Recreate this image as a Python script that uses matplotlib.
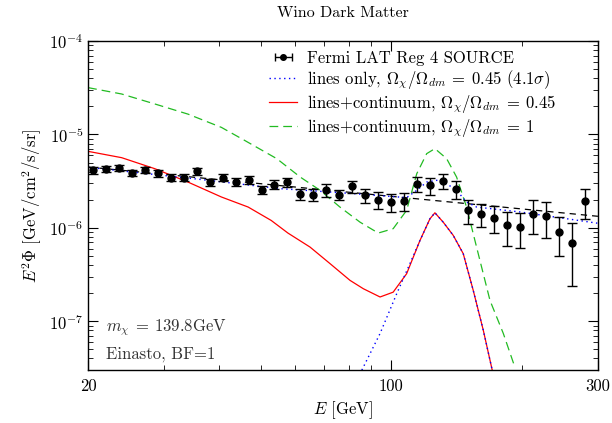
import matplotlib
matplotlib.use("Agg")
import matplotlib.pyplot as plt
import numpy as np
from matplotlib.ticker import FixedLocator, NullFormatter, LogLocator

plt.rcParams["font.family"] = "serif"
plt.rcParams["font.serif"] = ["cmr10", "DejaVu Serif"]
plt.rcParams["mathtext.fontset"] = "cm"
plt.rcParams["axes.unicode_minus"] = False
plt.rcParams["axes.formatter.use_mathtext"] = True

# Fermi LAT data points (E in GeV, E^2 Phi in GeV/cm^2/s/sr)
data_E = [20.57, 22.03, 23.60, 25.28, 27.07, 29.00, 31.06, 33.27, 35.63, 38.17,
          40.88, 43.79, 46.90, 50.24, 53.81, 57.63, 61.73, 66.12, 70.82, 75.86,
          81.25, 87.03, 93.21, 99.84, 106.9, 114.5, 122.7, 131.4, 140.8, 150.8,
          161.5, 173.0, 185.3, 198.5, 212.6, 227.7, 243.9, 261.2, 279.8]
data_flux = [4.13e-6, 4.30e-6, 4.41e-6, 3.86e-6, 4.16e-6, 3.83e-6, 3.45e-6, 3.45e-6, 4.02e-6, 3.07e-6,
             3.45e-6, 3.12e-6, 3.25e-6, 2.56e-6, 2.90e-6, 3.09e-6, 2.30e-6, 2.27e-6, 2.52e-6, 2.27e-6,
             2.78e-6, 2.23e-6, 2.00e-6, 1.88e-6, 1.94e-6, 2.97e-6, 2.85e-6, 3.20e-6, 2.60e-6, 1.55e-6,
             1.42e-6, 1.29e-6, 1.06e-6, 1.03e-6, 1.42e-6, 1.34e-6, 0.90e-6, 0.69e-6, 1.92e-6]
data_err = [0.32e-6, 0.33e-6, 0.35e-6, 0.31e-6, 0.33e-6, 0.33e-6, 0.29e-6, 0.29e-6, 0.34e-6, 0.26e-6,
            0.31e-6, 0.30e-6, 0.33e-6, 0.27e-6, 0.32e-6, 0.37e-6, 0.32e-6, 0.32e-6, 0.40e-6, 0.30e-6,
            0.39e-6, 0.37e-6, 0.41e-6, 0.40e-6, 0.41e-6, 0.53e-6, 0.58e-6, 0.57e-6, 0.57e-6, 0.45e-6,
            0.40e-6, 0.41e-6, 0.42e-6, 0.42e-6, 0.55e-6, 0.57e-6, 0.40e-6, 0.45e-6, 0.68e-6]

# background power law (black dashed)
bkg_E = [20, 300]
bkg_flux = [4.48e-6, 1.33e-6]

# lines only: total model (bkg + lines) and line signal alone
lines_tot_E = [20, 36.3, 55.4, 80.4, 101.1, 108.6, 114.6, 120.8, 127.4, 134.3,
               141.6, 149.3, 157.5, 198.3, 300]
lines_tot_flux = [4.45e-6, 3.3e-6, 2.63e-6, 2.34e-6, 2.16e-6, 2.11e-6, 2.52e-6, 3.09e-6, 3.23e-6, 2.97e-6,
                  2.52e-6, 1.89e-6, 1.67e-6, 1.48e-6, 1.12e-6]
lines_sig_E = [85.6, 94.3, 103.0, 110.5, 116.6, 122.9, 126.2, 131.9, 139.1, 146.7, 154.7, 163.2, 171.1]
lines_sig_flux = [3.0e-8, 7.4e-8, 1.97e-7, 4.14e-7, 7.35e-7, 1.25e-6, 1.45e-6, 1.15e-6, 8.31e-7,
                  5.29e-7, 2.14e-7, 8.0e-8, 3.0e-8]

# lines + continuum, Omega = 0.45 (red)
cont045_E = [20, 23.9, 28.5, 34.0, 40.6, 46.8, 52.9, 57.8, 65.0, 72.3, 80.4, 86.3, 94.3,
             101.1, 108.6, 116.6, 122.9, 126.2, 131.9, 139.1, 146.7, 154.7, 163.2, 171.1]
cont045_flux = [6.59e-6, 5.64e-6, 4.30e-6, 3.09e-6, 2.14e-6, 1.67e-6, 1.20e-6, 8.8e-7, 6.23e-7, 4.14e-7,
                2.74e-7, 2.23e-7, 1.82e-7, 2.05e-7, 3.23e-7, 7.35e-7, 1.25e-6, 1.45e-6, 1.15e-6, 8.31e-7,
                5.29e-7, 2.14e-7, 8.0e-8, 3.0e-8]

# lines + continuum, Omega = 1 (green)
cont1_E = [20, 23.9, 28.5, 34.0, 40.6, 46.0, 54.5, 61.7, 68.6, 76.2, 84.8, 93.4, 101.1, 108.6,
           114.6, 120.8, 126.2, 134.3, 141.6, 149.3, 157.5, 169.1, 181.5, 193.1]
cont1_flux = [3.17e-5, 2.71e-5, 2.12e-5, 1.65e-5, 1.19e-5, 8.6e-6, 5.5e-6, 3.5e-6, 2.52e-6, 1.67e-6,
              1.15e-6, 8.8e-7, 9.8e-7, 1.54e-6, 3.8e-6, 6.23e-6, 7.05e-6, 5.51e-6, 3.5e-6, 1.67e-6,
              6.2e-7, 1.67e-7, 7.4e-8, 3.2e-8]

fig = plt.figure(figsize=(6.12, 4.23), dpi=100)
ax = fig.add_axes([0.144, 0.125, 0.833, 0.778])

ax.plot(bkg_E, bkg_flux, color="black", ls=(0, (5, 4)), lw=0.9)
ax.plot(cont1_E, cont1_flux, color="#22bb22", ls=(0, (7, 4)), lw=0.9,
        label=r"lines+continuum, $\Omega_\chi/\Omega_{dm}\:=\:1$")
ax.plot(cont045_E, cont045_flux, color="red", lw=0.9,
        label=r"lines+continuum, $\Omega_\chi/\Omega_{dm}\:=\:0.45$")
ax.plot(lines_tot_E, lines_tot_flux, color="blue", ls=(0, (1, 2.5)), lw=1.0,
        label=r"lines only, $\Omega_\chi/\Omega_{dm}\:=\:0.45$ $(4.1\sigma)$")
ax.plot(lines_sig_E, lines_sig_flux, color="blue", ls=(0, (1, 2.5)), lw=1.0)

ax.errorbar(data_E, data_flux, yerr=data_err, fmt="o", color="black", ms=5,
            capsize=3.8, elinewidth=1, capthick=1)
# legend handle drawn with horizontal bar
h_data = ax.errorbar([np.nan], [np.nan], xerr=[1], fmt="o", color="black", ms=4,
                     capsize=3, elinewidth=1, capthick=1, label="Fermi LAT Reg 4 SOURCE")

ax.set_xscale("log")
ax.set_yscale("log")
ax.set_xlim(20, 300)
ax.set_ylim(3e-8, 1e-4)

ax.xaxis.set_major_locator(FixedLocator([20, 100, 300]))
ax.xaxis.set_major_formatter(plt.FixedFormatter(["20", "100", "300"]))
ax.xaxis.set_minor_locator(FixedLocator([30, 40, 50, 60, 70, 80, 90, 200]))
ax.xaxis.set_minor_formatter(NullFormatter())
ax.yaxis.set_major_locator(LogLocator(base=10, numticks=10))
ax.yaxis.set_minor_locator(LogLocator(base=10, subs=np.arange(2, 10), numticks=10))
ax.yaxis.set_minor_formatter(NullFormatter())

ax.tick_params(which="both", direction="in", top=True, right=True, labelsize=12)
ax.tick_params(which="major", length=7, width=0.8)
ax.tick_params(which="minor", length=3.5, width=0.6)
ax.tick_params(axis="x", pad=6)
for s in ax.spines.values():
    s.set_linewidth(1.0)

ax.set_xlabel(r"$E$ [GeV]", fontsize=12)
ax.set_ylabel(r"$E^2\Phi$ [GeV/cm$^2$/s/sr]", fontsize=12)
ax.set_title("Wino Dark Matter", fontsize=11.5, pad=17)

handles, labels = ax.get_legend_handles_labels()
order = [3, 2, 1, 0]
ax.legend([handles[i] for i in order], [labels[i] for i in order], loc="upper left",
          bbox_to_anchor=(0.355, 0.97), frameon=False, fontsize=12, handlelength=1.7,
          handletextpad=0.6, labelspacing=0.12, borderaxespad=0, borderpad=0)

ax.text(0.035, 0.128, r"$m_\chi\:=\:139.8$GeV", transform=ax.transAxes, fontsize=12,
        color="#333333", va="center")
ax.text(0.035, 0.049, "Einasto, BF=1", transform=ax.transAxes, fontsize=12,
        color="#333333", va="center")

fig.savefig("out.png", dpi=100)
